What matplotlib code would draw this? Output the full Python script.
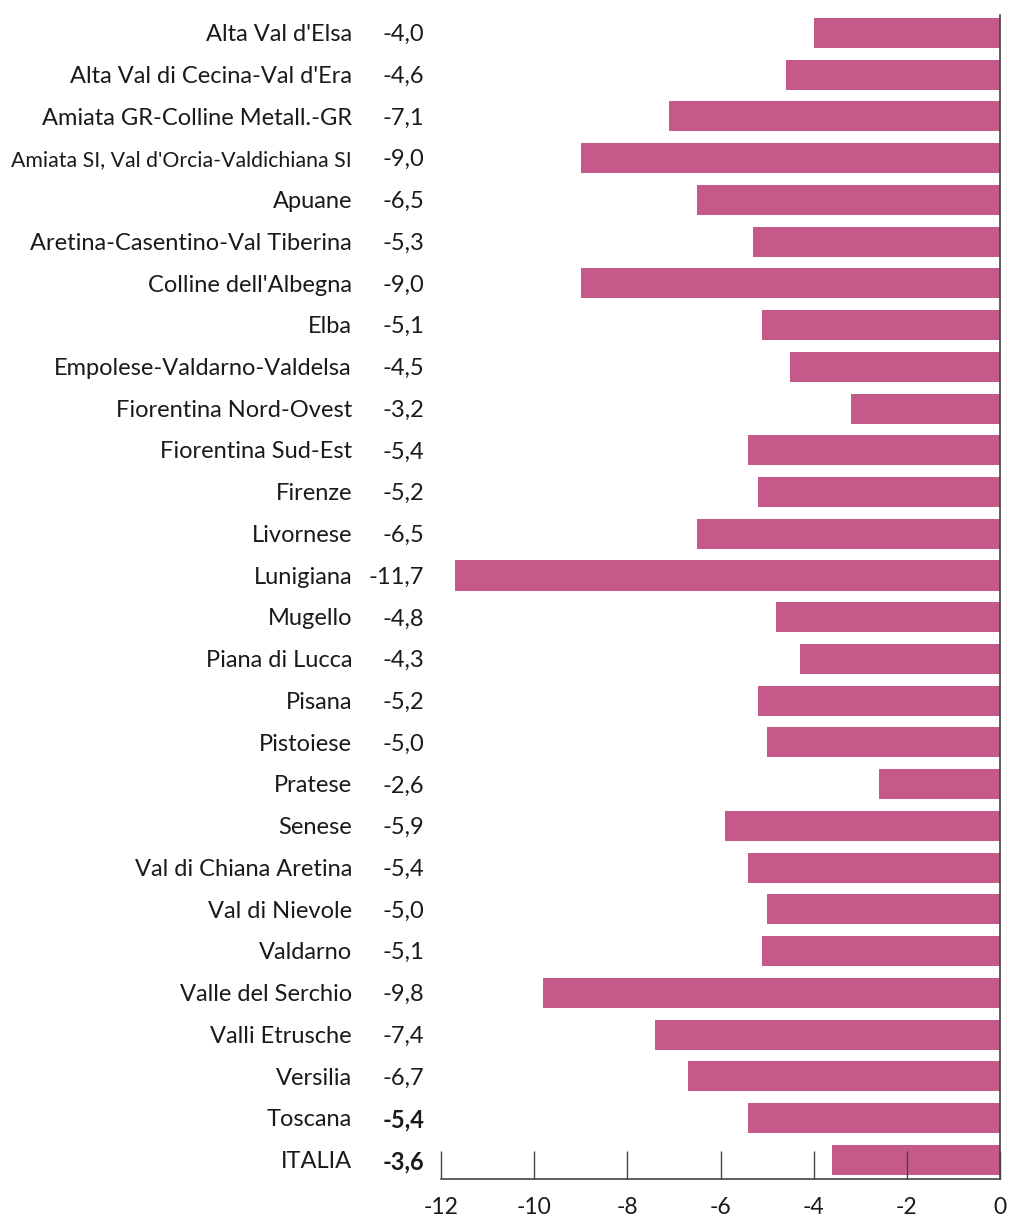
import matplotlib.pyplot as plt
import matplotlib.transforms as mtransforms

plt.rcParams['font.family'] = ['Lato', 'DejaVu Sans']

zone = ["Alta Val d'Elsa", "Alta Val di Cecina-Val d'Era", "Amiata GR-Colline Metall.-GR",
        "Amiata SI, Val d'Orcia-Valdichiana SI", "Apuane", "Aretina-Casentino-Val Tiberina",
        "Colline dell'Albegna", "Elba", "Empolese-Valdarno-Valdelsa", "Fiorentina Nord-Ovest",
        "Fiorentina Sud-Est", "Firenze", "Livornese", "Lunigiana", "Mugello", "Piana di Lucca",
        "Pisana", "Pistoiese", "Pratese", "Senese", "Val di Chiana Aretina", "Val di Nievole",
        "Valdarno", "Valle del Serchio", "Valli Etrusche", "Versilia", "Toscana", "ITALIA"]
valori = [-4.0, -4.6, -7.1, -9.0, -6.5, -5.3, -9.0, -5.1, -4.5, -3.2, -5.4, -5.2, -6.5, -11.7,
          -4.8, -4.3, -5.2, -5.0, -2.6, -5.9, -5.4, -5.0, -5.1, -9.8, -7.4, -6.7, -5.4, -3.6]
grassetto = ["Toscana", "ITALIA"]
xticks = [-12, -10, -8, -6, -4, -2, 0]

colore = '#C55A8A'

fig = plt.figure(figsize=(10.11, 12.2), dpi=100)
ax = fig.add_axes([441/1011, 1 - 1179/1220, 559/1011, (1179 - 15)/1220])

y = list(range(len(zone)))
ax.barh(y, valori, height=0.72, color=colore)
ax.set_xlim(-12, 0)
ax.set_ylim(27.46, -0.43)

for s in ['top', 'left']:
    ax.spines[s].set_visible(False)
for s in ['right', 'bottom']:
    ax.spines[s].set_color('#444444')
    ax.spines[s].set_linewidth(1.2)

ax.set_yticks([])
ax.set_xticks(xticks)
ax.set_xticklabels([str(t) for t in xticks])
ax.tick_params(axis='x', direction='in', length=20, width=1.0, color='#444444',
               pad=13, labelsize=16.5, labelcolor='#1a1a1a')

# etichette delle zone e valori a sinistra del grafico
trans = mtransforms.blended_transform_factory(fig.transFigure, ax.transData)
for i, (nome, v) in enumerate(zip(zone, valori)):
    peso = 'bold' if nome in grassetto else 'normal'
    # l'etichetta più lunga va ristretta per stare nella figura
    fs = 15.3 if len(nome) > 32 else 17
    ax.text(352/1011, i + 0.04, nome, transform=trans, ha='right', va='center',
            fontsize=fs, color='#1a1a1a', clip_on=False)
    ax.text(424/1011, i + 0.04, f"{v:.1f}".replace('.', ','), transform=trans, ha='right',
            va='center', fontsize=17, color='#1a1a1a', fontweight=peso, clip_on=False)

fig.savefig('out.png', dpi=100)
